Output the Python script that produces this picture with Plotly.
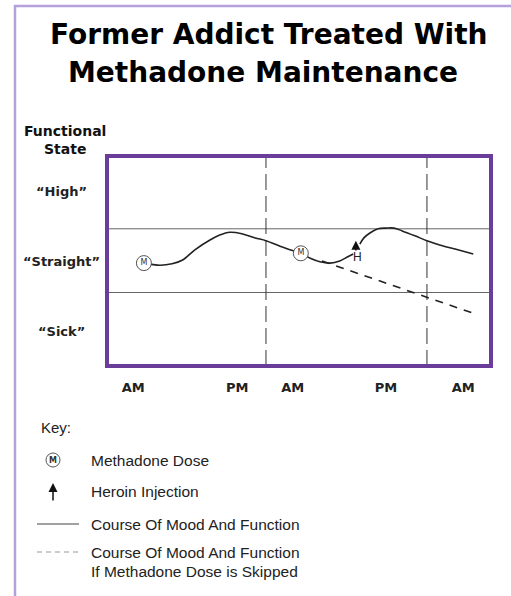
import plotly.graph_objects as go

# ---- data (x in hours from start, y = functional state units) ----
course_x1 = [5.8, 8.2, 10.0, 11.5, 13.4, 15.65, 17.1, 18.6, 20.4, 22.4, 24.0, 26.1, 29.2]
course_y1 = [1.47, 1.44, 1.46, 1.51, 1.66, 1.80, 1.87, 1.91, 1.89, 1.83, 1.79, 1.71, 1.61]
course_x2 = [29.2, 30.6, 32.05, 33.55, 35.0, 36.2, 37.0]
course_y2 = [1.61, 1.54, 1.49, 1.47, 1.50, 1.56, 1.60]
course_x3 = [38.0, 38.6, 39.5, 40.7, 41.9, 43.1, 44.3, 46.2, 48.0, 49.9, 52.2, 54.9]
course_y3 = [1.74, 1.83, 1.90, 1.96, 1.97, 1.97, 1.93, 1.86, 1.79, 1.73, 1.67, 1.60]
skipped_x = [32.35, 54.7]
skipped_y = [1.50, 0.76]
dose_x = [5.8, 29.2]
dose_y = [1.47, 1.61]
heroin_x = [37.4]
heroin_y = [1.79]
heroin_base_y = [1.63]
midnights = [24, 48]
band_bounds = [1.05, 1.96]
tick_vals = [4.2, 19.7, 28.0, 41.9, 53.4]
tick_text = ["AM", "PM", "AM", "PM", "AM"]
state_vals = [2.5, 1.5, 0.5]
state_text = ["\u201cHigh\u201d", "\u201cStraight\u201d", "\u201cSick\u201d"]

W, H = 511, 596
L, R, T, B = 107, 491, 156, 366  # plot area in pixels


def px(p):
    return (p - L) / (R - L)


def py(p):
    return (B - p) / (B - T)


BOLD = "DejaVu Sans"
REG = "Liberation Sans, Arial, sans-serif"
PURPLE = "#6a3d9a"
LILAC = "#b5a0dc"
INK = "#222222"

fig = go.Figure()

line_style = dict(color=INK, width=1.6, shape="spline", smoothing=1.0)
for xs, ys in [(course_x1, course_y1), (course_x2, course_y2), (course_x3, course_y3)]:
    fig.add_trace(go.Scatter(x=xs, y=ys, mode="lines", line=line_style,
                             hoverinfo="skip", showlegend=False))

fig.add_trace(go.Scatter(x=skipped_x, y=skipped_y, mode="lines",
                         line=dict(color=INK, width=1.6, dash="8px,7px"),
                         hoverinfo="skip", showlegend=False))

fig.add_trace(go.Scatter(x=dose_x, y=dose_y, mode="markers+text", text=["M", "M"],
                         textposition="middle center",
                         textfont=dict(family=BOLD, size=8, color="#333"),
                         marker=dict(symbol="circle", size=15, color="white",
                                     line=dict(color="#555", width=1)),
                         hoverinfo="skip", showlegend=False))

shapes = []
for b in band_bounds:
    shapes.append(dict(type="line", xref="paper", yref="y", x0=0, x1=1, y0=b, y1=b,
                       line=dict(color="#666", width=1), layer="below"))
for m in midnights:
    shapes.append(dict(type="line", xref="x", yref="paper", x0=m, x1=m, y0=0, y1=1,
                       line=dict(color="#333", width=1, dash="16px,6px"), layer="below"))
# plot box
shapes.append(dict(type="rect", xref="paper", yref="paper", x0=0, x1=1, y0=0, y1=1,
                   line=dict(color=PURPLE, width=4)))
# page frame
shapes.append(dict(type="line", xref="paper", yref="paper", x0=px(15), x1=px(15),
                   y0=py(5), y1=py(600), line=dict(color=LILAC, width=2.5)))
shapes.append(dict(type="line", xref="paper", yref="paper", x0=px(14), x1=px(515),
                   y0=py(6), y1=py(6), line=dict(color=LILAC, width=2.5)))
# key samples
shapes.append(dict(type="circle", xref="paper", yref="paper", xsizemode="pixel",
                   ysizemode="pixel", xanchor=px(53), yanchor=py(460),
                   x0=-7, x1=7, y0=-7, y1=7, line=dict(color="#555", width=1)))
shapes.append(dict(type="line", xref="paper", yref="paper", x0=px(37), x1=px(79),
                   y0=py(524), y1=py(524), line=dict(color="#444", width=1)))
shapes.append(dict(type="line", xref="paper", yref="paper", x0=px(37), x1=px(79),
                   y0=py(552), y1=py(552), line=dict(color="#999", width=1, dash="5px,4px")))

ann = []
# title
ann.append(dict(text="<b>Former Addict Treated With</b>", xref="paper", yref="paper",
                x=px(269), y=py(34), showarrow=False, xanchor="center", yanchor="middle",
                font=dict(family=BOLD, size=28, color="#000")))
ann.append(dict(text="<b>Methadone Maintenance</b>", xref="paper", yref="paper",
                x=px(263), y=py(72), showarrow=False, xanchor="center", yanchor="middle",
                font=dict(family=BOLD, size=28, color="#000")))
# y title
ann.append(dict(text="<b>Functional</b>", xref="paper", yref="paper", x=px(65), y=py(131),
                showarrow=False, xanchor="center", yanchor="middle",
                font=dict(family=BOLD, size=14, color="#111")))
ann.append(dict(text="<b>State</b>", xref="paper", yref="paper", x=px(65), y=py(149),
                showarrow=False, xanchor="center", yanchor="middle",
                font=dict(family=BOLD, size=14, color="#111")))
for v, t in zip(state_vals, state_text):
    ann.append(dict(text="<b>" + t + "</b>", xref="paper", yref="y", x=px(61), y=v,
                    showarrow=False, xanchor="center", yanchor="middle",
                    font=dict(family=BOLD, size=13, color="#222")))
# heroin injection arrow
for hx, hy, hb in zip(heroin_x, heroin_y, heroin_base_y):
    ann.append(dict(text="", x=hx, y=hy, xref="x", yref="y", ax=hx, ay=hb,
                    axref="x", ayref="y", showarrow=True, arrowhead=2, arrowsize=1.2,
                    arrowwidth=1.5, arrowcolor="#111"))
    ann.append(dict(text="H", x=hx + 0.2, y=hb - 0.07, xref="x", yref="y", showarrow=False,
                    xanchor="center", yanchor="middle",
                    font=dict(family=REG, size=12, color="#222")))
# key
ann.append(dict(text="Key:", xref="paper", yref="paper", x=px(39), y=py(427),
                showarrow=False, xanchor="left", yanchor="middle",
                font=dict(family=REG, size=15, color="#222")))
ann.append(dict(text="<b>M</b>", xref="paper", yref="paper", x=px(53), y=py(460),
                showarrow=False, xanchor="center", yanchor="middle",
                font=dict(family=BOLD, size=8, color="#333")))
ann.append(dict(text="", xref="paper", yref="paper", x=px(53), y=py(483), ax=0, ay=19,
                showarrow=True, arrowhead=2, arrowsize=1.2, arrowwidth=1.5, arrowcolor="#111"))
key_items = [("Methadone Dose", 460), ("Heroin Injection", 491),
             ("Course Of Mood And Function", 524), ("Course Of Mood And Function", 552),
             ("If Methadone Dose is Skipped", 571)]
for t, yy in key_items:
    ann.append(dict(text=t, xref="paper", yref="paper", x=px(89), y=py(yy),
                    showarrow=False, xanchor="left", yanchor="middle",
                    font=dict(family=REG, size=15.5, color="#222")))

fig.update_layout(
    width=W, height=H,
    margin=dict(l=L, r=W - R, t=T, b=H - B, pad=0),
    paper_bgcolor="white", plot_bgcolor="white",
    showlegend=False,
    shapes=shapes, annotations=ann,
    xaxis=dict(range=[0.3, 57.55], showgrid=False, zeroline=False, showline=False,
               tickmode="array", tickvals=tick_vals, ticktext=["<b>" + t + "</b>" for t in tick_text],
               ticks="", ticklabelstandoff=12,
               tickfont=dict(family=BOLD, size=13, color="#222"), fixedrange=True),
    yaxis=dict(range=[0, 3], showgrid=False, zeroline=False, showline=False,
               showticklabels=False, ticks="", fixedrange=True),
)

fig.write_html("out.html", config={"displayModeBar": False},
               post_script="document.body.style.margin='0';document.body.style.overflow='hidden';")
